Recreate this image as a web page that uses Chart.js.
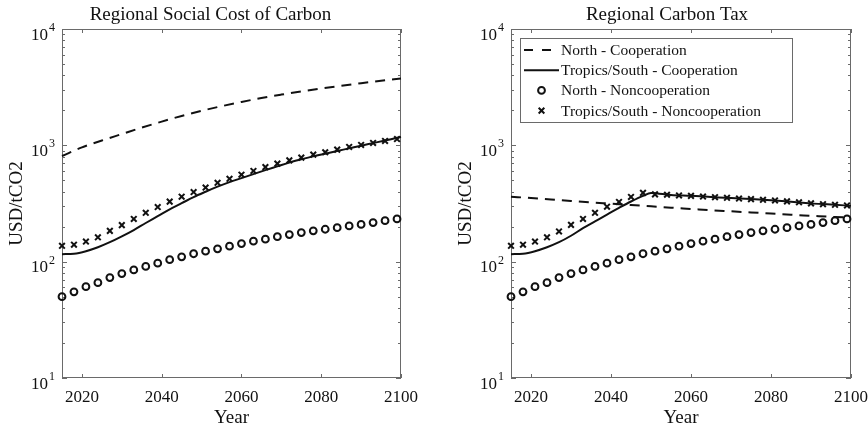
<!DOCTYPE html>
<html>
<head>
<meta charset="utf-8">
<script src="https://cdn.jsdelivr.net/npm/chart.js@4.4.1/dist/chart.umd.min.js"></script>
<style>
  html, body { margin: 0; padding: 0; background: #fff; }
  #wrap { position: relative; width: 868px; height: 431px; }
  canvas { position: absolute; top: 0; }
</style>
</head>
<body>
<div id="wrap">
  <canvas id="sccChart" width="434" height="431" style="left:0"></canvas>
  <canvas id="taxChart" width="434" height="431" style="left:434px"></canvas>
</div>
<script>
const getEl = (id) => document.getElementById(id);

// --- data ---
const lineYears = [2015, 2020, 2025, 2030, 2035, 2040, 2045, 2050, 2055, 2060, 2065, 2070, 2075, 2080, 2085, 2090, 2095, 2100];
const markerYears = [2015, 2018, 2021, 2024, 2027, 2030, 2033, 2036, 2039, 2042, 2045, 2048, 2051, 2054, 2057, 2060, 2063, 2066, 2069, 2072, 2075, 2078, 2081, 2084, 2087, 2090, 2093, 2096, 2099];

const northCoopScc = [810, 960, 1100, 1250, 1420, 1600, 1790, 1980, 2170, 2360, 2550, 2730, 2910, 3080, 3250, 3420, 3590, 3760];
const northCoopTax = [362, 352, 342, 332, 323, 315, 307, 299, 291, 284, 277, 271, 265, 259, 253, 248, 243, 239];

const tropicsCoopSccYears = [2015, 2018, 2021, 2024, 2027, 2030, 2033, 2036, 2039, 2042, 2045, 2048, 2051, 2054, 2057, 2060, 2063, 2066, 2069, 2072, 2075, 2078, 2081, 2084, 2087, 2090, 2093, 2096, 2099, 2100];
const tropicsCoopScc = [116, 117, 123, 133, 147, 165, 187, 215, 246, 282, 318, 359, 399, 441, 483, 523, 566, 612, 659, 710, 757, 804, 848, 894, 942, 993, 1045, 1100, 1160, 1180];

const tropicsCoopTaxYears = [2015, 2018, 2021, 2024, 2027, 2030, 2033, 2036, 2039, 2042, 2045, 2048, 2050, 2055, 2060, 2065, 2070, 2075, 2080, 2085, 2090, 2095, 2100];
const tropicsCoopTax = [116, 117, 123, 133, 147, 167, 194, 222, 254, 290, 329, 368, 390, 374, 368, 360, 352, 345, 337, 327, 317, 310, 302];

const northNoncoop = [50, 55, 61, 66, 73, 79, 85, 91, 97, 104, 110, 117, 123, 129, 136, 143, 150, 156, 164, 171, 178, 184, 190, 196, 203, 209, 217, 225, 233];
const tropicsNoncoopScc = [137, 140, 149, 162, 184, 206, 233, 263, 295, 328, 362, 397, 434, 476, 516, 559, 602, 650, 696, 743, 784, 832, 872, 918, 968, 1008, 1048, 1090, 1133];
const tropicsNoncoopTax = [137, 140, 149, 162, 182, 207, 233, 263, 297, 326, 360, 390, 379, 376, 371, 368, 363, 358, 354, 349, 345, 340, 336, 330, 324, 317, 312, 308, 304];

const xTicks = [2020, 2040, 2060, 2080, 2100];
const yTicks = [10, 100, 1000, 10000];
const yTickExp = ['1', '2', '3', '4'];
const seriesNames = ['North - Cooperation', 'Tropics/South - Cooperation', 'North - Noncooperation', 'Tropics/South - Noncooperation'];

const FONT = '"Liberation Serif", "Times New Roman", serif';
const INK = '#111';
const AXIS = '#6a6a6a';

const pts = (xs, ys) => xs.map((x, i) => ({ x, y: ys[i] }));

const makeDatasets = (northCoop, tropYears, tropCoop, tropNon) => [
    { label: seriesNames[0], data: pts(lineYears, northCoop), borderColor: INK, borderWidth: 2, borderDash: [10, 7], pointRadius: 0, cubicInterpolationMode: 'monotone', clip: false },
    { label: seriesNames[1], data: pts(tropYears, tropCoop), borderColor: INK, borderWidth: 2, pointRadius: 0, cubicInterpolationMode: 'monotone', clip: false },
    { label: seriesNames[2], data: pts(markerYears, northNoncoop), showLine: false, pointStyle: 'circle', pointRadius: 3.4, pointBorderWidth: 2, pointBorderColor: INK, pointBackgroundColor: 'rgba(0,0,0,0)', clip: false },
    { label: seriesNames[3], data: pts(markerYears, tropNon), showLine: false, pointStyle: 'crossRot', pointRadius: 4, pointBorderWidth: 2, pointBorderColor: INK, clip: false }
];

// axes box, inward ticks, labels, title and legend in MATLAB style
const frame = {
    id: 'frame',
    beforeDatasetsDraw(chart, args, o) {
        const { ctx, chartArea: a, scales: { x, y } } = chart;
        ctx.save();
        ctx.strokeStyle = AXIS;
        ctx.lineWidth = 1;
        ctx.strokeRect(Math.round(a.left) + 0.5, Math.round(a.top) + 0.5, Math.round(a.width) - 1, Math.round(a.height) - 1);
        ctx.beginPath();
        yTicks.slice(0, -1).forEach(d => {
            for (let k = 1; k <= 10; k++) {
                const py = Math.round(y.getPixelForValue(d * k)) + 0.5;
                const len = (k === 1 || k === 10) ? 5 : 3;
                ctx.moveTo(a.left, py); ctx.lineTo(a.left + len, py);
                ctx.moveTo(a.right, py); ctx.lineTo(a.right - len, py);
            }
        });
        xTicks.forEach(v => {
            const px = Math.round(x.getPixelForValue(v)) + 0.5;
            ctx.moveTo(px, a.bottom); ctx.lineTo(px, a.bottom - 4);
            ctx.moveTo(px, a.top); ctx.lineTo(px, a.top + 4);
        });
        ctx.stroke();

        ctx.fillStyle = INK;
        ctx.font = `17px ${FONT}`;
        ctx.textAlign = 'center';
        ctx.textBaseline = 'alphabetic';
        xTicks.forEach(v => ctx.fillText(String(v), x.getPixelForValue(v), a.bottom + 24));

        ctx.textAlign = 'right';
        yTicks.forEach((v, i) => {
            const py = y.getPixelForValue(v);
            ctx.font = `12px ${FONT}`;
            const w = ctx.measureText(yTickExp[i]).width;
            ctx.fillText(yTickExp[i], a.left - 7, py + 2);
            ctx.font = `17px ${FONT}`;
            ctx.fillText('10', a.left - 8 - w, py + 10.5);
        });

        ctx.font = `19px ${FONT}`;
        ctx.textAlign = 'center';
        ctx.fillText('Year', (a.left + a.right) / 2, a.bottom + 45);
        ctx.fillText(o.title, (a.left + a.right) / 2 + o.titleShift, 20);

        ctx.save();
        ctx.translate(a.left - 40, (a.top + a.bottom) / 2);
        ctx.rotate(-Math.PI / 2);
        ctx.fillText('USD/tCO2', 0, 0);
        ctx.restore();
        ctx.restore();
    },
    afterDraw(chart, args, o) {
        if (!o.legend) return;
        const { ctx, chartArea: a } = chart;
        const bx = a.left + 9, by = 38, bw = 272, bh = 84;
        ctx.save();
        ctx.fillStyle = '#fff';
        ctx.fillRect(bx, by, bw, bh);
        ctx.strokeStyle = AXIS;
        ctx.lineWidth = 1;
        ctx.strokeRect(bx + 0.5, by + 0.5, bw, bh);
        chart.data.datasets.forEach((ds, i) => {
            const ry = by + 12 + i * 20.2;
            const x0 = bx + 4, x1 = bx + 39;
            ctx.strokeStyle = INK;
            ctx.fillStyle = '#fff';
            ctx.lineWidth = 2;
            if (ds.showLine !== false) {
                const end = ds.borderDash ? x0 + 27 : x1;
                ctx.setLineDash(ds.borderDash ? [9, 9] : []);
                ctx.beginPath(); ctx.moveTo(x0, ry); ctx.lineTo(end, ry); ctx.stroke();
                ctx.setLineDash([]);
            } else {
                Chart.helpers.drawPoint(ctx, { pointStyle: ds.pointStyle, radius: ds.pointRadius, borderWidth: 2 }, (x0 + x1) / 2, ry);
            }
            ctx.fillStyle = INK;
            ctx.font = `15.5px ${FONT}`;
            ctx.textAlign = 'left';
            ctx.textBaseline = 'middle';
            ctx.fillText(ds.label, x1 + 2, ry + 1);
        });
        ctx.restore();
    }
};

const makeChart = (id, datasets, pad, frameOpts) => new Chart(getEl(id).getContext('2d'), {
    type: 'line',
    data: { datasets },
    options: {
        responsive: false,
        animation: false,
        layout: { padding: pad },
        plugins: { legend: { display: false }, tooltip: { enabled: false }, frame: frameOpts },
        scales: {
            x: { type: 'linear', min: 2015, max: 2100, display: false },
            y: { type: 'logarithmic', min: 10, max: 10000, display: false }
        }
    },
    plugins: [frame]
});

makeChart('sccChart', makeDatasets(northCoopScc, tropicsCoopSccYears, tropicsCoopScc, tropicsNoncoopScc),
    { left: 62, right: 33, top: 29, bottom: 53 },
    { title: 'Regional Social Cost of Carbon', titleShift: -21, legend: false });

makeChart('taxChart', makeDatasets(northCoopTax, tropicsCoopTaxYears, tropicsCoopTax, tropicsNoncoopTax),
    { left: 77, right: 17, top: 29, bottom: 53 },
    { title: 'Regional Carbon Tax', titleShift: -14, legend: true });
</script>
</body>
</html>
